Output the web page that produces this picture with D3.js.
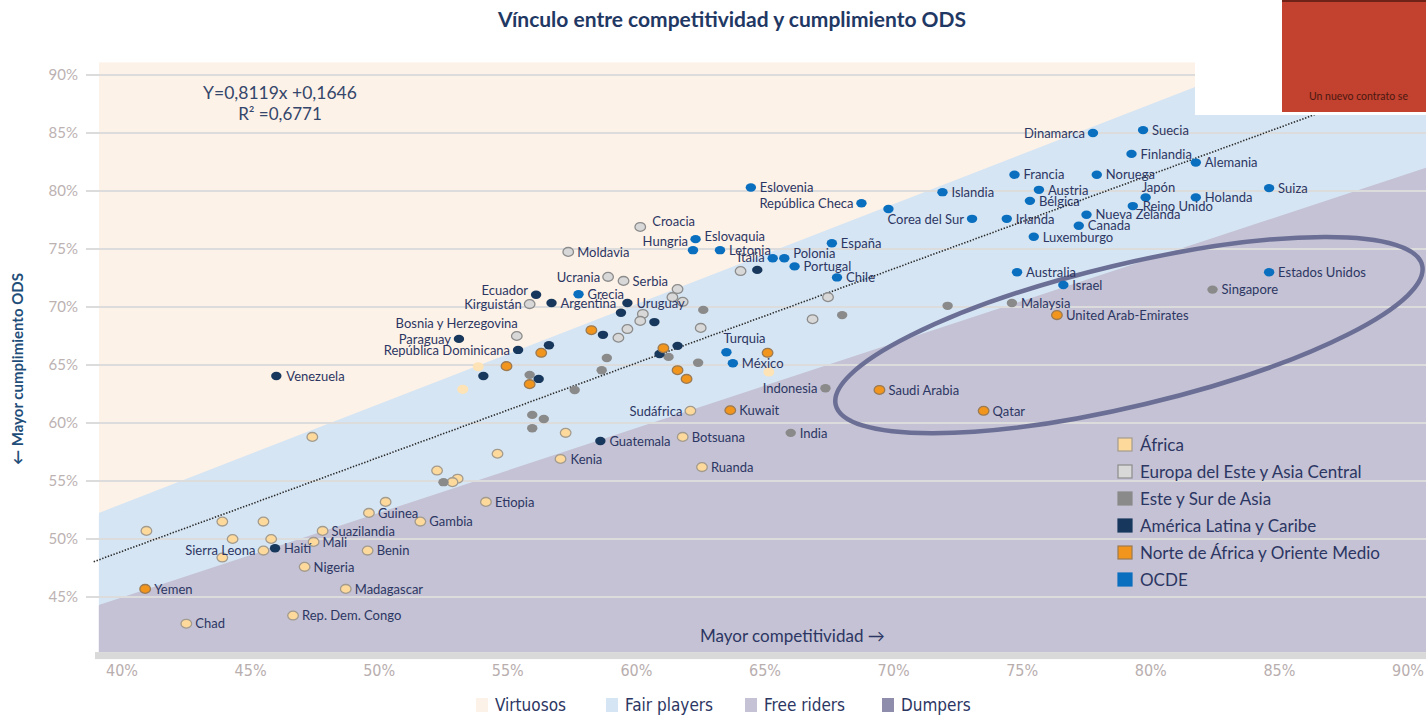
<!DOCTYPE html>
<html>
<head>
<meta charset="utf-8">
<script src="https://cdn.jsdelivr.net/npm/d3@7/dist/d3.min.js"></script>
<style>
  body { margin: 0; background: #fff; }
  svg { display: block; font-family: Lato, "Open Sans", sans-serif; }
</style>
</head>
<body>
<svg id="chart" width="1426" height="715"></svg>
<script>
// ========== DATA (in %) ==========
// x = competitividad, y = cumplimiento ODS
const africa = [
  { n: "Chad", x: 42.5, y: 42.7 }, { n: "Rep. Dem. Congo", x: 46.65, y: 43.4 },
  { n: "Madagascar", x: 48.7, y: 45.7 }, { n: "Nigeria", x: 47.1, y: 47.6 },
  { n: "Benin", x: 49.55, y: 49.0 }, { n: "Mali", x: 47.45, y: 49.75 },
  { n: "Suazilandia", x: 47.8, y: 50.7 }, { n: "Guinea", x: 49.6, y: 52.25 },
  { n: "", x: 50.25, y: 53.2 }, { n: "Gambia", x: 51.6, y: 51.5 },
  { n: "Sierra Leona", x: 45.5, y: 49.0 }, { n: "", x: 43.9, y: 48.4 },
  { n: "", x: 40.95, y: 50.7 }, { n: "", x: 43.9, y: 51.5 },
  { n: "", x: 44.3, y: 50.0 }, { n: "", x: 45.5, y: 51.5 },
  { n: "", x: 45.8, y: 50.0 }, { n: "", x: 47.4, y: 58.8 },
  { n: "", x: 52.25, y: 55.9 }, { n: "", x: 53.05, y: 55.2 },
  { n: "", x: 52.85, y: 54.9 }, { n: "Etiopia", x: 54.15, y: 53.2 },
  { n: "Kenia", x: 57.05, y: 56.9 }, { n: "", x: 54.6, y: 57.35 },
  { n: "", x: 57.25, y: 59.15 }, { n: "Sudáfrica", x: 62.1, y: 61.05 },
  { n: "Botsuana", x: 61.8, y: 58.8 }, { n: "Ruanda", x: 62.55, y: 56.2 }
];
// pale african points drawn without outline
const africaFaint = [
  { n: "", x: 53.25, y: 62.9 }, { n: "", x: 53.85, y: 64.85 }, { n: "", x: 65.15, y: 64.4 }
];
const europaEste = [
  { n: "Croacia", x: 60.15, y: 76.9 }, { n: "Moldavia", x: 57.35, y: 74.75 },
  { n: "Ucrania", x: 58.9, y: 72.6 }, { n: "Serbia", x: 59.5, y: 72.25 },
  { n: "Kirguistán", x: 55.85, y: 70.25 }, { n: "Bosnia y Herzegovina", x: 55.35, y: 67.5 },
  { n: "", x: 61.6, y: 71.55 }, { n: "", x: 61.4, y: 70.85 }, { n: "", x: 61.8, y: 70.45 },
  { n: "", x: 60.25, y: 69.4 }, { n: "", x: 60.15, y: 68.8 }, { n: "", x: 59.65, y: 68.1 },
  { n: "", x: 59.3, y: 67.35 }, { n: "", x: 62.5, y: 68.2 }, { n: "", x: 64.05, y: 73.1 },
  { n: "", x: 67.45, y: 70.85 }, { n: "", x: 66.85, y: 68.95 }
];
const asia = [
  { n: "Indonesia", x: 67.35, y: 63.0 }, { n: "India", x: 66.0, y: 59.15 },
  { n: "Singapore", x: 82.4, y: 71.5 }, { n: "Malaysia", x: 74.6, y: 70.35 },
  { n: "", x: 72.1, y: 70.1 }, { n: "", x: 68.0, y: 69.3 }, { n: "", x: 62.6, y: 69.75 },
  { n: "", x: 62.4, y: 65.2 }, { n: "", x: 61.25, y: 65.7 }, { n: "", x: 58.85, y: 65.6 },
  { n: "", x: 58.65, y: 64.55 }, { n: "", x: 55.85, y: 64.15 }, { n: "", x: 57.6, y: 62.85 },
  { n: "", x: 55.95, y: 60.7 }, { n: "", x: 56.4, y: 60.35 }, { n: "", x: 55.95, y: 59.55 },
  { n: "", x: 52.5, y: 54.9 }
];
const latam = [
  { n: "Venezuela", x: 46.0, y: 64.05 }, { n: "Haití", x: 45.95, y: 49.2 },
  { n: "Guatemala", x: 58.6, y: 58.45 }, { n: "Ecuador", x: 56.1, y: 71.05 },
  { n: "Argentina", x: 56.7, y: 70.35 }, { n: "Uruguay", x: 59.65, y: 70.35 },
  { n: "Paraguay", x: 53.1, y: 67.25 }, { n: "República Dominicana", x: 55.4, y: 66.3 },
  { n: "", x: 59.4, y: 69.5 }, { n: "", x: 56.6, y: 66.7 }, { n: "", x: 58.7, y: 67.6 },
  { n: "", x: 60.7, y: 68.7 }, { n: "", x: 54.05, y: 64.05 }, { n: "", x: 56.2, y: 63.8 },
  { n: "", x: 61.6, y: 66.65 }, { n: "", x: 60.9, y: 65.95 }, { n: "", x: 64.7, y: 73.2 }
];
const mena = [
  { n: "Yemen", x: 40.9, y: 45.7 }, { n: "Kuwait", x: 63.65, y: 61.1 },
  { n: "Saudi Arabia", x: 69.45, y: 62.85 }, { n: "Qatar", x: 73.5, y: 61.05 },
  { n: "United Arab-Emirates", x: 76.35, y: 69.3 },
  { n: "", x: 58.25, y: 68.0 }, { n: "", x: 56.3, y: 66.05 }, { n: "", x: 54.95, y: 64.9 },
  { n: "", x: 55.85, y: 63.35 }, { n: "", x: 61.05, y: 66.45 }, { n: "", x: 61.6, y: 64.55 },
  { n: "", x: 61.95, y: 63.8 }, { n: "", x: 65.1, y: 66.05 }
];
const ocde = [
  { n: "Dinamarca", x: 77.75, y: 85.0 }, { n: "Suecia", x: 79.7, y: 85.25 },
  { n: "Finlandia", x: 79.25, y: 83.2 }, { n: "Alemania", x: 81.75, y: 82.45 },
  { n: "Francia", x: 74.7, y: 81.4 }, { n: "Noruega", x: 77.9, y: 81.4 },
  { n: "Austria", x: 75.65, y: 80.1 }, { n: "Bélgica", x: 75.3, y: 79.15 },
  { n: "Japón", x: 79.8, y: 79.45 }, { n: "Reino Unido", x: 79.3, y: 78.7 },
  { n: "Holanda", x: 81.75, y: 79.45 }, { n: "Suiza", x: 84.6, y: 80.25 },
  { n: "Nueva Zelanda", x: 77.5, y: 77.95 }, { n: "Canada", x: 77.2, y: 77.0 },
  { n: "Irlanda", x: 74.4, y: 77.6 }, { n: "Luxemburgo", x: 75.45, y: 76.05 },
  { n: "Islandia", x: 71.9, y: 79.9 }, { n: "Corea del Sur", x: 73.05, y: 77.6 },
  { n: "", x: 69.8, y: 78.45 }, { n: "Eslovenia", x: 64.45, y: 80.3 },
  { n: "República Checa", x: 68.75, y: 78.95 }, { n: "España", x: 67.6, y: 75.5 },
  { n: "Eslovaquia", x: 62.3, y: 75.85 }, { n: "Hungria", x: 62.2, y: 74.9 },
  { n: "Letonia", x: 63.25, y: 74.9 }, { n: "Italia", x: 65.3, y: 74.2 },
  { n: "Polonia", x: 65.75, y: 74.2 }, { n: "Portugal", x: 66.15, y: 73.5 },
  { n: "Chile", x: 67.8, y: 72.55 }, { n: "Grecia", x: 57.75, y: 71.1 },
  { n: "Turquia", x: 63.5, y: 66.1 }, { n: "México", x: 63.75, y: 65.15 },
  { n: "Australia", x: 74.8, y: 73.0 }, { n: "Israel", x: 76.6, y: 71.9 },
  { n: "Estados Unidos", x: 84.6, y: 73.0 }
];

const yTicks = [45, 50, 55, 60, 65, 70, 75, 80, 85, 90];
const xTicks = [40, 45, 50, 55, 60, 65, 70, 75, 80, 85, 90];

// trend line stated on the chart
const regression = { slope: 0.8119, intercept: 16.46, from: 38.9, to: 90.7 };
// band edges (two points each, in %)
const upperEdge = [{ x: 39.1, y: 52.25 }, { x: 84.2, y: 91.1 }];
const lowerEdge = [{ x: 39.1, y: 44.3 }, { x: 90.7, y: 82.0 }];
// highlighted group (ellipse ends, in %)
const ellipseEnds = [{ x: 67.75, y: 61.55 }, { x: 90.55, y: 73.6 }];
const ellipseRatio = 0.235;

const groups = [
  { name: "África", pts: africa, fill: "#fdd99c", stroke: "#a39b8e" },
  { name: "Europa del Este y Asia Central", pts: europaEste, fill: "#d8d8d8", stroke: "#8c8c8c" },
  { name: "Este y Sur de Asia", pts: asia, fill: "#8a8a8a", stroke: "none" },
  { name: "América Latina y Caribe", pts: latam, fill: "#18375c", stroke: "none" },
  { name: "Norte de África y Oriente Medio", pts: mena, fill: "#f2951c", stroke: "#9c7a52" },
  { name: "OCDE", pts: ocde, fill: "#0a6fbf", stroke: "none" }
];

const quadrants = [
  { name: "Virtuosos", color: "#fdf2e7" },
  { name: "Fair players", color: "#d5e5f3" },
  { name: "Free riders", color: "#c4c2d4" },
  { name: "Dumpers", color: "#8f8dac" }
];

// label placement: [dx, dy, anchor]
const leftLabels = ["Dinamarca", "República Checa", "Corea del Sur", "Italia", "Sudáfrica",
  "Indonesia", "Sierra Leona", "Ucrania", "Kirguistán", "Paraguay", "República Dominicana"];
const labelNudge = {
  "Hungria": [-5, -9, "end"], "Ecuador": [-8, -5, "end"], "Bosnia y Herzegovina": [1, -13, "end"],
  "Turquia": [-3, -14, "start"], "Japón": [-4, -10, "start"], "Croacia": [12, -6, "start"],
  "Polonia": [9, -5, "start"], "Eslovaquia": [9, -3, "start"], "Italia": [-8, -1, "end"],
  "Venezuela": [10, 0, "start"], "Kenia": [10, 0, "start"], "Reino Unido": [10, 0, "start"]
};

// ========== LAYOUT ==========
const svg = d3.select("#chart");
const x = d3.scaleLinear().domain([40, 90]).range([122, 1408]);
const y = d3.scaleLinear().domain([45, 90]).range([597, 75]);
const X0 = 39.1, X1 = 90.75, Y0 = 40.25, Y1 = 91.1;
const navy = "#2c3663";

svg.append("defs").append("clipPath").attr("id", "plot")
  .append("rect")
  .attr("x", x(X0)).attr("y", y(Y1))
  .attr("width", x(X1) - x(X0)).attr("height", y(Y0) - y(Y1));

const plot = svg.append("g").attr("clip-path", "url(#plot)");

// ---- bands ----
const poly = d3.line().x(d => x(d.x)).y(d => y(d.y));
plot.append("rect")
  .attr("x", x(X0)).attr("y", y(Y1))
  .attr("width", x(X1) - x(X0)).attr("height", y(Y0) - y(Y1))
  .attr("fill", quadrants[0].color);
plot.append("path")
  .attr("d", poly([...upperEdge, { x: X1 + 1, y: Y1 }, { x: X1 + 1, y: Y0 }, { x: X0 - 1, y: Y0 }]) + "Z")
  .attr("fill", quadrants[1].color);
plot.append("path")
  .attr("d", poly([...lowerEdge, { x: X1 + 1, y: Y0 }, { x: X0 - 1, y: Y0 }]) + "Z")
  .attr("fill", quadrants[2].color);

// ---- grid ----
svg.append("g").selectAll("line").data(yTicks).join("line")
  .attr("x1", 86).attr("x2", 1426)
  .attr("y1", d => y(d)).attr("y2", d => y(d))
  .attr("stroke", "#dcdcdc").attr("stroke-width", 2);

svg.append("g").selectAll("text").data(yTicks).join("text")
  .attr("x", 78).attr("y", d => y(d)).attr("dy", "0.36em")
  .attr("text-anchor", "end")
  .attr("fill", "#bcb2b2").attr("font-size", 15)
  .text(d => d + "%");

svg.append("rect")
  .attr("x", 95).attr("y", y(Y0)).attr("width", 1426 - 95).attr("height", 7)
  .attr("fill", "#d9d9d9");

svg.append("g").selectAll("text").data(xTicks).join("text")
  .attr("x", d => x(d)).attr("y", 676)
  .attr("text-anchor", "middle")
  .attr("fill", "#b8aeae").attr("font-size", 16)
  .style("font-family", "'Liberation Sans Narrow', 'DejaVu Sans Condensed', sans-serif")
  .style("font-stretch", "condensed")
  .text(d => d + "%");

// ---- regression ----
svg.append("line")
  .attr("x1", x(regression.from)).attr("y1", y(regression.slope * regression.from + regression.intercept))
  .attr("x2", x(regression.to)).attr("y2", y(regression.slope * regression.to + regression.intercept))
  .attr("stroke", "#2a2a2a").attr("stroke-width", 1.6)
  .attr("stroke-dasharray", "1.4,1.6");

// ---- ellipse ----
{
  const [a, b] = ellipseEnds.map(d => [x(d.x), y(d.y)]);
  const cx = (a[0] + b[0]) / 2, cy = (a[1] + b[1]) / 2;
  const rx = Math.hypot(b[0] - a[0], b[1] - a[1]) / 2;
  const ang = Math.atan2(b[1] - a[1], b[0] - a[0]) * 180 / Math.PI;
  svg.append("ellipse")
    .attr("cx", cx).attr("cy", cy).attr("rx", rx).attr("ry", rx * ellipseRatio)
    .attr("transform", `rotate(${ang},${cx},${cy})`)
    .attr("fill", "none").attr("stroke", "#6b6e95").attr("stroke-width", 4.5);
}

// ---- equation ----
svg.append("text").attr("x", 280).attr("y", 99).attr("text-anchor", "middle")
  .attr("fill", "#34466b").attr("font-size", 17.5).text("Y=0,8119x +0,1646");
svg.append("text").attr("x", 280).attr("y", 120).attr("text-anchor", "middle")
  .attr("fill", "#34466b").attr("font-size", 17).text("R² =0,6771");

// ---- points ----
const dots = svg.append("g");
dots.selectAll("ellipse.faint").data(africaFaint).join("ellipse")
  .attr("cx", d => x(d.x)).attr("cy", d => y(d.y))
  .attr("rx", 5.5).attr("ry", 4.6).attr("fill", "#fde3b6");
groups.forEach(g => {
  dots.append("g").selectAll("ellipse").data(g.pts).join("ellipse")
    .attr("cx", d => x(d.x)).attr("cy", d => y(d.y))
    .attr("rx", g.stroke === "none" ? 5.2 : 5.3)
    .attr("ry", g.stroke === "none" ? 4.2 : 4.4)
    .attr("fill", g.fill)
    .attr("stroke", g.stroke).attr("stroke-width", 1.3);
});

// ---- labels ----
const labelled = groups.flatMap(g => g.pts).filter(d => d.n);
svg.append("g").selectAll("text").data(labelled).join("text")
  .each(function (d) {
    let p = labelNudge[d.n] || (leftLabels.includes(d.n) ? [-8, 0, "end"] : [9, 0, "start"]);
    d3.select(this)
      .attr("x", x(d.x) + p[0]).attr("y", y(d.y) + p[1])
      .attr("text-anchor", p[2]);
  })
  .attr("dy", "0.36em")
  .attr("fill", navy).attr("font-size", 13)
  .text(d => d.n);

// ---- group legend ----
const lg = svg.append("g").attr("transform", "translate(1118,445)");
groups.forEach((g, i) => {
  lg.append("rect").attr("x", 0).attr("y", i * 27 - 7).attr("width", 14).attr("height", 13)
    .attr("fill", g.fill).attr("stroke", g.stroke === "none" ? g.fill : g.stroke).attr("stroke-width", 1.2);
  lg.append("text").attr("x", 22).attr("y", i * 27).attr("dy", "0.36em")
    .attr("fill", navy).attr("font-size", 17).text(g.name);
});

// ---- quadrant legend ----
const qx = [476, 606, 745, 882];
const ql = svg.append("g").attr("transform", "translate(0,705)");
quadrants.forEach((q, i) => {
  ql.append("rect").attr("x", qx[i]).attr("y", -7).attr("width", 12).attr("height", 14).attr("fill", q.color);
  ql.append("text").attr("x", qx[i] + 19).attr("y", 0).attr("dy", "0.36em")
    .attr("fill", navy).attr("font-size", 17)
    .style("font-family", "'Liberation Sans Narrow', 'DejaVu Sans Condensed', sans-serif")
    .style("font-stretch", "condensed")
    .text(q.name);
});

// ---- titles ----
svg.append("text").attr("x", 732).attr("y", 27).attr("text-anchor", "middle")
  .attr("fill", "#1f3864").attr("font-size", 21).attr("font-weight", "bold")
  .text("Vínculo entre competitividad y cumplimiento ODS");
svg.append("text").attr("x", 700).attr("y", 642)
  .attr("fill", navy).attr("font-size", 17)
  .text("Mayor competitividad →");
svg.append("text").attr("transform", "translate(23,369) rotate(-90)")
  .attr("text-anchor", "middle")
  .attr("fill", "#1f4e79").attr("font-size", 15).attr("font-weight", "bold")
  .text("← Mayor cumplimiento ODS");

// ---- pasted cover at the top right ----
svg.append("rect").attr("x", 1195).attr("y", 0).attr("width", 231).attr("height", 115).attr("fill", "#fff");
svg.append("rect").attr("x", 1282).attr("y", 0).attr("width", 144).attr("height", 112).attr("fill", "#c2412f");
svg.append("rect").attr("x", 1282).attr("y", 0).attr("width", 144).attr("height", 2).attr("fill", "#6e2218");
svg.append("text").attr("x", 1309).attr("y", 100).attr("fill", "#4a1810").attr("font-size", 10.5)
  .text("Un nuevo contrato se");
</script>
</body>
</html>
